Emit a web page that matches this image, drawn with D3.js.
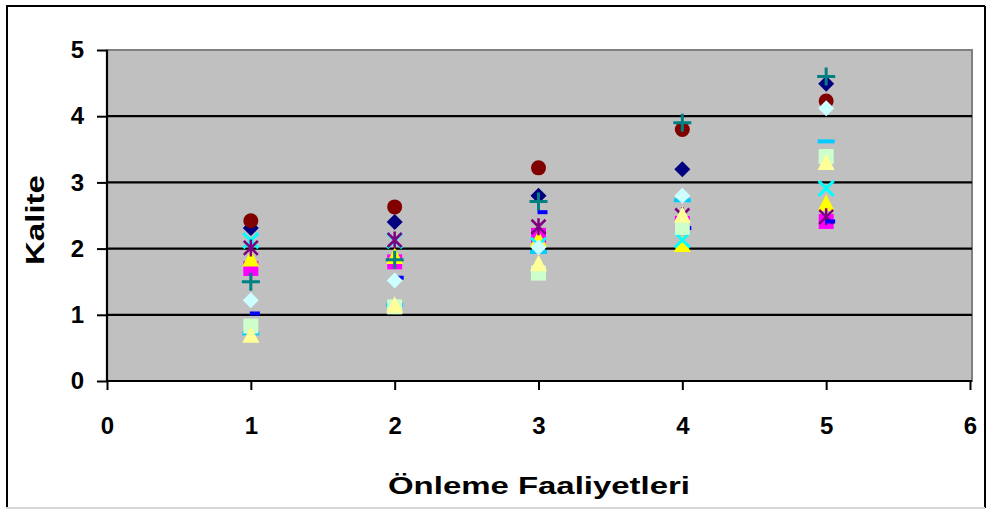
<!DOCTYPE html>
<html>
<head>
<meta charset="utf-8">
<script src="https://cdn.jsdelivr.net/npm/d3@7"></script>
<style>
  html, body { margin: 0; padding: 0; background: #ffffff; }
  svg { display: block; }
  text { font-family: "Liberation Sans", Arial, sans-serif; font-weight: bold; fill: #000; }
</style>
</head>
<body>
<svg id="chart" width="987" height="510"></svg>
<script>
// ---- data ----
const xValues = [1, 2, 3, 4, 5];
const xTicks = [0, 1, 2, 3, 4, 5, 6];
const yTicks = [0, 1, 2, 3, 4, 5];
const xTitle = "Önleme Faaliyetleri";
const yTitle = "Kalite";

const s1 = [2.31, 2.40, 2.80, 3.20, 4.49];   // dark blue diamond
const s2 = [1.70, 1.80, 2.20, 2.38, 2.41];   // magenta square
const s3 = [1.85, 1.89, 2.15, 2.07, 2.69];   // yellow triangle
const s4 = [2.12, 2.12, 2.05, 2.13, 2.91];   // cyan x
const s5 = [2.01, 2.13, 2.33, 2.50, 2.48];   // purple star
const s6 = [2.42, 2.63, 3.22, 3.80, 4.23];   // dark red circle
const s7 = [1.50, 1.83, 2.71, 3.90, 4.60];   // teal plus
const s8 = [1.02, 1.56, 2.55, 2.31, 2.41];   // blue short dash
const s9 = [0.72, 1.15, 1.95, 2.73, 3.62];   // sky blue long dash
const s10 = [1.22, 1.52, 2.02, 2.80, 4.12];  // light cyan diamond
const s11 = [0.83, 1.12, 1.63, 2.32, 3.39];  // light green square
const s12 = [0.70, 1.15, 1.78, 2.51, 3.31];  // light yellow triangle

const seriesValues = [s1, s2, s3, s4, s5, s6, s7, s8, s9, s10, s11, s12];
const seriesColors = ["#000080", "#FF00FF", "#FFFF00", "#00FFFF", "#800080", "#800000",
                      "#008080", "#0000FF", "#00CCFF", "#CCFFFF", "#CCFFCC", "#FFFF99"];
const seriesMarkers = ["diamond", "square", "triangle", "x", "star", "circle",
                       "plus", "shortdash", "longdash", "diamond", "square", "triangle"];

// ---- layout ----
const svg = d3.select("#chart");
const x = d3.scaleLinear().domain([0, 6]).range([107, 970]);
const y = d3.scaleLinear().domain([0, 5]).range([381, 50]);

// outer frame
svg.append("line").attr("x1", 7).attr("y1", 6).attr("x2", 7).attr("y2", 508).attr("stroke", "#000").attr("stroke-width", 2);
svg.append("line").attr("x1", 6).attr("y1", 6).attr("x2", 985).attr("y2", 6).attr("stroke", "#000").attr("stroke-width", 2);
svg.append("line").attr("x1", 985).attr("y1", 6).attr("x2", 985).attr("y2", 508).attr("stroke", "#000").attr("stroke-width", 2);
svg.append("line").attr("x1", 6).attr("y1", 508).attr("x2", 985).attr("y2", 508).attr("stroke", "#d8d8d8").attr("stroke-width", 2);

// plot area
svg.append("rect")
  .attr("x", x(0)).attr("y", y(5))
  .attr("width", x(6) - x(0) + 2).attr("height", y(0) - y(5))
  .attr("fill", "#C0C0C0")
  .attr("stroke", "#808080").attr("stroke-width", 2);

// gridlines
svg.append("g").selectAll("line")
  .data(yTicks.filter(d => d > 0 && d < 5))
  .join("line")
  .attr("x1", x(0)).attr("x2", x(6) + 2)
  .attr("y1", d => y(d)).attr("y2", d => y(d))
  .attr("stroke", "#000").attr("stroke-width", 2.2);

// axes
const yAxis = svg.append("g")
  .attr("transform", `translate(${x(0)},0)`)
  .call(d3.axisLeft(y).tickValues(yTicks).tickFormat(d3.format("d")).tickSize(10).tickPadding(13));
const xAxis = svg.append("g")
  .attr("transform", `translate(0,${y(0)})`)
  .call(d3.axisBottom(x).tickValues(xTicks).tickFormat(d3.format("d")).tickSize(9).tickPadding(27));
[yAxis, xAxis].forEach(g => {
  g.select(".domain").attr("stroke", "#000").attr("stroke-width", 2.2);
  g.selectAll(".tick line").attr("stroke", "#000").attr("stroke-width", 2);
  g.selectAll(".tick text").style("font-family", '"Liberation Sans", Arial, sans-serif')
    .style("font-weight", "bold").style("font-size", "24px").attr("fill", "#000");
});
xAxis.select(".domain").attr("d", `M${x(0)},0H${x(6) + 2}`);
yAxis.select(".domain").attr("d", `M0,${y(5)}V${y(0)}`);

// axis titles
svg.append("text")
  .attr("x", 388).attr("y", 494)
  .attr("textLength", 302).attr("lengthAdjust", "spacingAndGlyphs")
  .style("font-size", "24px")
  .text(xTitle);
svg.append("text")
  .attr("transform", "translate(44,265) rotate(-90)")
  .attr("textLength", 90).attr("lengthAdjust", "spacingAndGlyphs")
  .style("font-size", "25px")
  .text(yTitle);

// markers
function drawMarker(g, type, cx, cy, color) {
  switch (type) {
    case "diamond":
      g.append("path").attr("d", `M${cx},${cy - 8}L${cx + 8},${cy}L${cx},${cy + 8}L${cx - 8},${cy}Z`).attr("fill", color);
      break;
    case "square":
      g.append("rect").attr("x", cx - 7.5).attr("y", cy - 7.5).attr("width", 15).attr("height", 15).attr("fill", color);
      break;
    case "triangle":
      g.append("path").attr("d", `M${cx},${cy - 8.5}L${cx + 8.5},${cy + 8}L${cx - 8.5},${cy + 8}Z`).attr("fill", color);
      break;
    case "circle":
      g.append("circle").attr("cx", cx).attr("cy", cy).attr("r", 7.5).attr("fill", color);
      break;
    case "x":
      g.append("path").attr("d", `M${cx - 7.5},${cy - 7.5}L${cx + 7.5},${cy + 7.5}M${cx + 7.5},${cy - 7.5}L${cx - 7.5},${cy + 7.5}`)
        .attr("stroke", color).attr("stroke-width", 3).attr("fill", "none");
      break;
    case "star":
      g.append("path").attr("d", `M${cx - 7},${cy - 7}L${cx + 7},${cy + 7}M${cx + 7},${cy - 7}L${cx - 7},${cy + 7}M${cx},${cy - 8.5}L${cx},${cy + 8.5}`)
        .attr("stroke", color).attr("stroke-width", 2.5).attr("fill", "none");
      break;
    case "plus":
      g.append("path").attr("d", `M${cx - 9},${cy}L${cx + 9},${cy}M${cx},${cy - 9}L${cx},${cy + 9}`)
        .attr("stroke", color).attr("stroke-width", 3).attr("fill", "none");
      break;
    case "shortdash":
      g.append("rect").attr("x", cx - 1).attr("y", cy - 2).attr("width", 10).attr("height", 4).attr("fill", color);
      break;
    case "longdash":
      g.append("rect").attr("x", cx - 8.5).attr("y", cy - 2).attr("width", 17).attr("height", 4).attr("fill", color);
      break;
  }
}

const marks = svg.append("g");
seriesValues.forEach((vals, i) => {
  const g = marks.append("g");
  vals.forEach((v, j) => drawMarker(g, seriesMarkers[i], x(xValues[j]), y(v), seriesColors[i]));
});
</script>
</body>
</html>
